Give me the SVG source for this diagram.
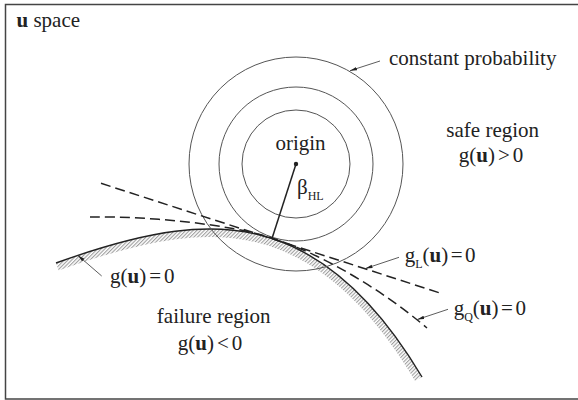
<svg xmlns="http://www.w3.org/2000/svg" width="578" height="400" viewBox="0 0 578 400">
<style>
text{font-family:"Liberation Serif","Times New Roman",serif;font-size:21px;fill:#222}
.b{font-weight:bold}
.sub{font-size:12px}
.circ{fill:none;stroke:#555;stroke-width:1}
.dash{fill:none;stroke:#222;stroke-width:1.5;stroke-dasharray:10 5}
.lead{fill:none;stroke:#333;stroke-width:0.8;marker-end:url(#arr)}
</style>
<defs>
<marker id="arr" markerUnits="userSpaceOnUse" markerWidth="8" markerHeight="6" refX="7" refY="2" orient="auto">
<path d="M0,0.3 L7,2 L0,3.7 Z" fill="#222"/>
</marker>
<pattern id="hatch" patternUnits="userSpaceOnUse" width="2.6" height="2.6" patternTransform="rotate(45)">
<rect width="2.6" height="2.6" fill="#fff"/>
<line x1="0.6" y1="0" x2="0.6" y2="2.6" stroke="#8a8a8a" stroke-width="0.9"/>
</pattern>
<clipPath id="below">
<path d="M56,263 C146,230.6 212,219 272,238.5 C332,258 382,309.8 422,377 L480,420 L-10,420 L-10,290 Z"/>
</clipPath>
</defs>
<rect x="5.5" y="4.5" width="590" height="394.5" fill="#fff" stroke="#444" stroke-width="1.5"/>
<g id="limit-state">
<path d="M56,263 C146,230.6 212,219 272,238.5 C332,258 382,309.8 422,377" fill="none" stroke="url(#hatch)" stroke-width="16" clip-path="url(#below)"/>
<path d="M56,263 C146,230.6 212,219 272,238.5 C332,258 382,309.8 422,377" fill="none" stroke="#222" stroke-width="1.4"/>
</g>
<g id="contours">
<circle class="circ" cx="296" cy="164" r="107"/>
<circle class="circ" cx="296" cy="164" r="77"/>
<circle class="circ" cx="296" cy="164" r="54"/>
</g>
<g id="approximations">
<path class="dash" d="M101,183.3 L443,294"/>
<path class="dash" d="M90,217 C150,216 230,224.4 272,238 C320,253.5 380,288 427,328"/>
</g>
<g id="origin">
<line x1="296" y1="164" x2="272" y2="238.5" stroke="#222" stroke-width="1.5"/>
<circle cx="296" cy="164" r="2.2" fill="#222"/>
<text x="300.5" y="150" text-anchor="middle">origin</text>
<text x="297" y="194">β<tspan class="sub" dy="6">HL</tspan></text>
</g>
<g id="connectors">
<path class="lead" d="M380,61 L350,70.7"/>
<path class="lead" d="M101.7,276 L78,255.5"/>
<path class="lead" d="M399,257.3 L365.5,268.5"/>
<path class="lead" d="M448,309.3 L417.3,319.5"/>
</g>
<g id="title"><text x="16.5" y="27"><tspan class="b">u</tspan> space</text></g>
<g id="label-constant"><text x="389" y="65">constant probability</text></g>
<g id="label-safe">
<text x="492.7" y="137" text-anchor="middle">safe region</text>
<text x="491" y="162" text-anchor="middle">g(<tspan class="b">u</tspan>)<tspan dx="3">&gt;</tspan><tspan dx="3">0</tspan></text>
</g>
<g id="label-g"><text x="110" y="283">g(<tspan class="b">u</tspan>)<tspan dx="3">=</tspan><tspan dx="3">0</tspan></text></g>
<g id="label-failure">
<text x="213.7" y="323.3" text-anchor="middle">failure region</text>
<text x="210" y="350" text-anchor="middle">g(<tspan class="b">u</tspan>)<tspan dx="3">&lt;</tspan><tspan dx="3">0</tspan></text>
</g>
<g id="label-gL"><text x="404.7" y="262">g<tspan class="sub" dy="6">L</tspan><tspan dy="-6">(</tspan><tspan class="b">u</tspan>)<tspan dx="2.5">=</tspan><tspan dx="2.5">0</tspan></text></g>
<g id="label-gQ"><text x="453.7" y="315">g<tspan class="sub" dy="6">Q</tspan><tspan dy="-6">(</tspan><tspan class="b">u</tspan>)<tspan dx="2.5">=</tspan><tspan dx="2.5">0</tspan></text></g>
</svg>
